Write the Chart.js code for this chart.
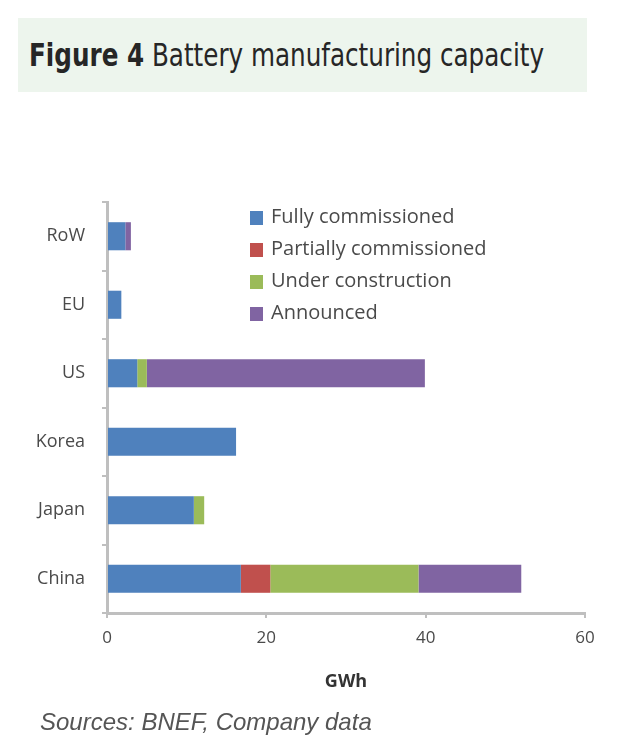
<!DOCTYPE html>
<html>
<head>
<meta charset="utf-8">
<script src="https://cdn.jsdelivr.net/npm/chart.js@4.4.1/dist/chart.umd.min.js"></script>
<style>
  body { margin: 0; background: #fff; }
  #wrap { position: relative; width: 640px; height: 752px; overflow: hidden; }
  #titre {
    position: absolute; left: 18px; top: 18px; width: 569px; height: 74px;
    background: #edf5ed;
  }
  #titre span {
    position: absolute; left: 11px; top: 19px; white-space: nowrap;
    font-family: "DejaVu Sans Condensed", "DejaVu Sans", sans-serif;
    font-size: 32px; color: #262626; line-height: 36px;
    transform-origin: 0 0;
  }
  #sources {
    position: absolute; left: 40px; top: 708px; white-space: nowrap;
    font-family: "Liberation Sans", sans-serif; font-style: italic;
    font-size: 24px; color: #555; line-height: 28px;
  }
  canvas { position: absolute; left: 0; top: 0; }
</style>
</head>
<body>
<div id="wrap">
  <div id="titre"><span id="titreTexte"><b>Figure 4</b> Battery manufacturing capacity</span></div>
  <canvas id="capaciteChart" width="640" height="752"></canvas>
  <div id="sources">Sources: BNEF, Company data</div>
</div>
<script>
// Données (GWh)
const pays = ['RoW', 'EU', 'US', 'Korea', 'Japan', 'China'];
const fullyCommissioned = [2.3, 1.8, 3.8, 16.2, 10.9, 16.8];
const partiallyCommissioned = [0, 0, 0, 0, 0, 3.7];
const underConstruction = [0, 0, 1.2, 0, 1.3, 18.6];
const announced = [0.7, 0, 34.9, 0, 0, 12.9];
const xTicks = [0, 20, 40, 60];

const couleurs = ['#4f81bd', '#c0504d', '#9bbb59', '#8064a2'];
const police = '"Open Sans", Lato, sans-serif';

// Titre resserré pour tenir dans le cadre
const titre = document.getElementById('titreTexte');
titre.style.transform = 'scaleX(' + (515 / titre.getBoundingClientRect().width) + ')';

// Légende dessinée dans la zone du graphique
const legendeInterne = {
    id: 'legendeInterne',
    afterDraw(chart) {
        const ctx = chart.ctx;
        const area = chart.chartArea;
        const x = area.left + 143;
        let y = area.top + 15;
        ctx.save();
        ctx.font = '20px ' + police;
        ctx.textBaseline = 'middle';
        chart.data.datasets.forEach(function(ds) {
            ctx.fillStyle = ds.backgroundColor;
            ctx.fillRect(x, y - 6, 13, 14);
            ctx.fillStyle = '#4a4a4a';
            ctx.fillText(ds.label, x + 21, y);
            y += 32;
        });
        ctx.restore();
    }
};

new Chart(document.getElementById('capaciteChart').getContext('2d'), {
    type: 'bar',
    data: {
        labels: pays,
        datasets: [
            { label: 'Fully commissioned', data: fullyCommissioned, backgroundColor: couleurs[0] },
            { label: 'Partially commissioned', data: partiallyCommissioned, backgroundColor: couleurs[1] },
            { label: 'Under construction', data: underConstruction, backgroundColor: couleurs[2] },
            { label: 'Announced', data: announced, backgroundColor: couleurs[3] }
        ]
    },
    options: {
        indexAxis: 'y',
        responsive: false,
        animation: false,
        categoryPercentage: 1,
        barPercentage: 0.41,
        layout: { padding: { left: 0, top: 202, right: 55, bottom: 59 } },
        scales: {
            x: {
                stacked: true,
                min: 0,
                max: 60,
                afterFit: function(scale) { scale.height = 80; },
                afterBuildTicks: function(scale) {
                    scale.ticks = xTicks.map(function(v) { return { value: v }; });
                },
                grid: { drawOnChartArea: false, drawTicks: true, tickLength: 5, color: '#bfbfbf', lineWidth: 2 },
                border: { color: '#bfbfbf', width: 3 },
                ticks: { color: '#4a4a4a', font: { family: police, size: 17 }, padding: 10, maxRotation: 0 },
                title: { display: true, text: 'GWh', color: '#333', font: { family: police, size: 18, weight: 'bold' }, padding: 0 }
            },
            y: {
                stacked: true,
                afterFit: function(scale) { scale.width = 107; },
                grid: { drawOnChartArea: false, drawTicks: true, tickLength: 5, color: '#bfbfbf', lineWidth: 2, offset: true },
                border: { color: '#bfbfbf', width: 3 },
                ticks: { color: '#4a4a4a', font: { family: police, size: 18 }, padding: 17 }
            }
        },
        plugins: {
            legend: { display: false },
            tooltip: { enabled: false }
        }
    },
    plugins: [legendeInterne]
});
</script>
</body>
</html>
